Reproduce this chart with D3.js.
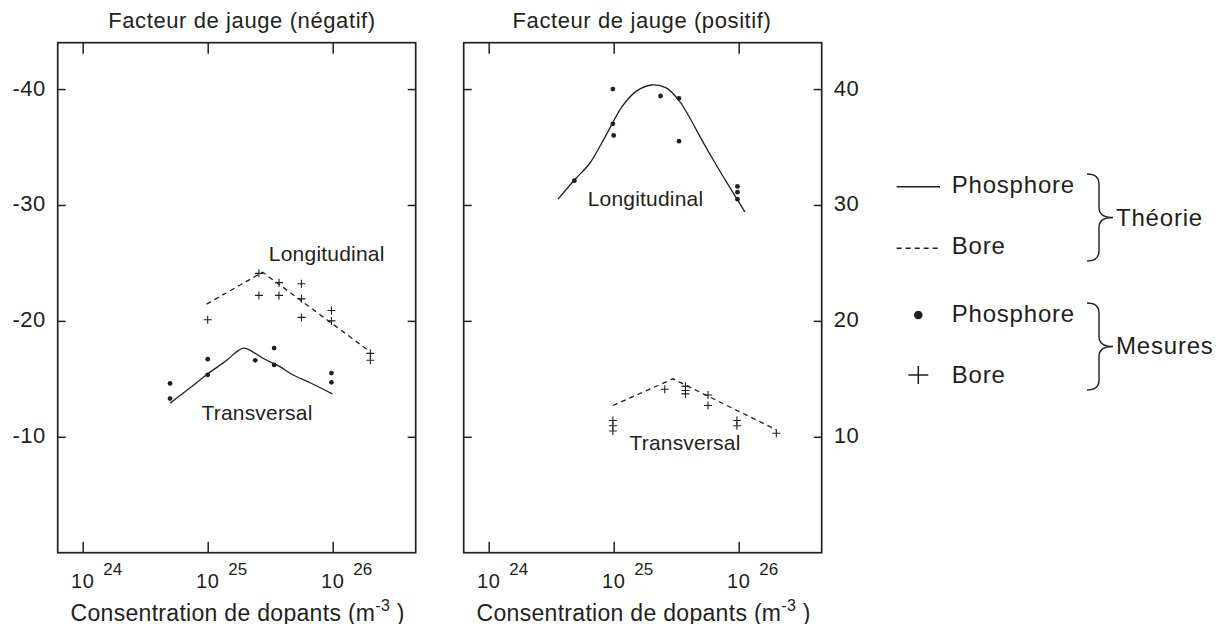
<!DOCTYPE html>
<html lang="fr">
<head>
<meta charset="utf-8">
<title>Facteur de jauge</title>
<script src="https://d3js.org/d3.v7.min.js"></script>
<style>
  body { margin: 0; background: #fff; }
  text { font-family: "Liberation Sans", Arial, sans-serif; fill: #231f20; }
</style>
</head>
<body>
<div id="chart"></div>
<script>
// tick values
const xTickValues = [1e24, 1e25, 1e26];
const yTickValues = [10, 20, 30, 40];

// facteur de jauge (negatif) : [concentration m^-3, |G|]
const negLongTheory = [[9.8e24, 21.45], [2.75e25, 24.2], [1.93e26, 17.45]];
const negTransTheory = [[5.0e24, 12.9], [7.2e24, 14.2], [9.9e24, 15.4], [1.42e25, 16.6], [1.71e25, 17.35],
  [1.93e25, 17.65], [2.11e25, 17.55], [2.79e25, 16.75], [3.78e25, 16.05], [4.7e25, 15.4], [6.79e25, 14.6], [9.93e25, 13.7]];
const negBoreMeas = [[1.0e25, 20.1], [2.57e25, 24.1], [2.57e25, 22.2], [3.72e25, 23.3], [3.72e25, 22.2],
  [5.62e25, 23.2], [5.62e25, 21.9], [5.62e25, 20.3], [9.77e25, 20.9], [9.77e25, 20.0], [2.0e26, 17.2], [2.0e26, 16.6]];
const negPhosMeas = [[5.0e24, 14.6], [5.0e24, 13.3], [1.0e25, 16.7], [1.0e25, 15.35], [2.4e25, 16.6],
  [3.4e25, 17.65], [3.4e25, 16.2], [9.77e25, 15.5], [9.77e25, 14.7]];

// facteur de jauge (positif)
const posLongTheory = [[3.59e24, 30.5], [4.85e24, 32.15], [6.43e24, 33.6], [8.71e24, 36.05], [1.17e25, 38.5],
  [1.51e25, 39.8], [2.0e25, 40.35], [2.63e25, 40.1], [3.39e25, 38.9], [4.07e25, 37.5], [4.9e25, 35.9],
  [6.61e25, 33.45], [8.91e25, 31.15], [1.12e26, 29.4]];
const posTransTheory = [[9.85e24, 12.7], [2.98e25, 15.0], [2.0e26, 10.6]];
const posPhosMeas = [[4.85e24, 32.1], [9.85e24, 40.0], [9.85e24, 37.0], [1.0e25, 36.0], [2.37e25, 39.4],
  [3.33e25, 39.2], [3.33e25, 35.5], [9.77e25, 31.6], [9.77e25, 31.1], [9.77e25, 30.5]];
const posBoreMeas = [[9.85e24, 11.4], [9.85e24, 10.95], [9.85e24, 10.5], [2.56e25, 14.1], [3.75e25, 14.35],
  [3.75e25, 14.0], [3.75e25, 13.7], [5.68e25, 13.6], [5.68e25, 12.7], [9.68e25, 11.4], [9.68e25, 10.95], [2.0e26, 10.3]];

const ink = "#231f20";
const width = 1228, height = 624;
const plotTop = 42.7, plotBottom = 552.7;

const svg = d3.select("#chart").append("svg")
  .attr("width", width).attr("height", height);

const y = d3.scaleLinear().domain([0, 44]).range([plotBottom, plotTop]);

const panels = [
  { x0: 57.7, x1: 415.7, title: "Facteur de jauge (négatif)", titleX: 242, sign: "-", labelSide: "left",
    theory: [[negLongTheory, true], [negTransTheory, false]], phos: negPhosMeas, bore: negBoreMeas,
    labels: [["Longitudinal", 326.7, 261], ["Transversal", 257, 420]] },
  { x0: 463.7, x1: 821.7, title: "Facteur de jauge (positif)", titleX: 642, sign: "", labelSide: "right",
    theory: [[posLongTheory, false], [posTransTheory, true]], phos: posPhosMeas, bore: posBoreMeas,
    labels: [["Longitudinal", 645.5, 206], ["Transversal", 685, 450]] }
];

panels.forEach(p => {
  const x = d3.scaleLog().domain([Math.pow(10, 23.8), Math.pow(10, 26.664)]).range([p.x0, p.x1]);
  const g = svg.append("g");

  // inward ticks on all four sides
  const axes = [
    [d3.axisTop(x).tickSize(-11), `translate(0,${plotTop})`],
    [d3.axisBottom(x).tickSize(-11), `translate(0,${plotBottom})`],
    [d3.axisLeft(y).tickSize(-8), `translate(${p.x0},0)`],
    [d3.axisRight(y).tickSize(-8), `translate(${p.x1},0)`]
  ];
  axes.forEach(([ax, tr], i) => {
    ax.tickValues(i < 2 ? xTickValues : yTickValues).tickFormat("");
    const a = g.append("g").attr("transform", tr).call(ax);
    a.select(".domain").remove();
    a.selectAll("line").attr("stroke", ink).attr("stroke-width", 1.5);
  });

  g.append("rect")
    .attr("x", p.x0).attr("y", plotTop)
    .attr("width", p.x1 - p.x0).attr("height", plotBottom - plotTop)
    .attr("fill", "none").attr("stroke", ink).attr("stroke-width", 1.7);

  // x tick labels 10^n
  xTickValues.forEach(v => {
    const xt = x(v);
    g.append("text").attr("x", xt).attr("y", 587.5)
      .attr("text-anchor", "middle").style("font-size", "20px").style("letter-spacing", "0.5px")
      .text("10");
    g.append("text").attr("x", xt + 20.6).attr("y", 575)
      .style("font-size", "17px")
      .text(Math.round(Math.log10(v)));
  });

  // y tick labels
  yTickValues.forEach(v => {
    g.append("text")
      .attr("x", p.labelSide === "left" ? p.x0 - 12 : p.x1 + 12)
      .attr("y", y(v) + 6.5)
      .attr("text-anchor", p.labelSide === "left" ? "end" : "start")
      .style("font-size", "22px").style("letter-spacing", "0.5px")
      .text(p.sign + v);
  });

  // titles
  g.append("text").attr("x", p.titleX).attr("y", 27.5)
    .attr("text-anchor", "middle").style("font-size", "22px").style("letter-spacing", "0.6px")
    .text(p.title);

  const xt = g.append("text").attr("x", (p.x0 + p.x1) / 2 + 1).attr("y", 620.5)
    .attr("text-anchor", "middle").style("font-size", "23px").style("letter-spacing", "0.3px");
  xt.append("tspan").text("Consentration de dopants (m");
  xt.append("tspan").attr("dy", -10).style("font-size", "16px").text("-3");
  xt.append("tspan").attr("dy", 10).text(" )");

  // theory curves
  p.theory.forEach(([data, dashed]) => {
    g.append("path").datum(data)
      .attr("fill", "none").attr("stroke", ink).attr("stroke-width", 1.3)
      .attr("stroke-dasharray", dashed ? "5,4" : null)
      .attr("d", d3.line()
        .x(d => x(d[0])).y(d => y(d[1]))
        .curve(dashed ? d3.curveLinear : d3.curveCatmullRom));
  });

  // measurements
  g.selectAll(".phos").data(p.phos).enter().append("circle")
    .attr("cx", d => x(d[0])).attr("cy", d => y(d[1])).attr("r", 2.4).attr("fill", ink);
  g.selectAll(".bore").data(p.bore).enter().append("path")
    .attr("transform", d => `translate(${x(d[0])},${y(d[1])})`)
    .attr("d", "M-4,0H4M0,-4V4").attr("stroke", ink).attr("stroke-width", 1.1).attr("fill", "none");

  p.labels.forEach(([t, lx, ly]) => {
    g.append("text").attr("x", lx).attr("y", ly).attr("text-anchor", "middle")
      .style("font-size", "21px").style("letter-spacing", "0.2px").text(t);
  });
});

// legend
const leg = svg.append("g");
const legText = (t, lx, ly) => leg.append("text").attr("x", lx).attr("y", ly)
  .style("font-size", "24px").style("letter-spacing", "0.8px").text(t);

leg.append("line").attr("x1", 896.7).attr("x2", 940).attr("y1", 186.7).attr("y2", 186.7)
  .attr("stroke", ink).attr("stroke-width", 1.5);
legText("Phosphore", 951.7, 193.3);
leg.append("line").attr("x1", 896.7).attr("x2", 940).attr("y1", 248.3).attr("y2", 248.3)
  .attr("stroke", ink).attr("stroke-width", 1.5).attr("stroke-dasharray", "5,4");
legText("Bore", 951.7, 254.3);
leg.append("circle").attr("cx", 918.3).attr("cy", 315).attr("r", 4.3).attr("fill", ink);
legText("Phosphore", 951.7, 321.7);
leg.append("path").attr("d", "M908.3,375H928.3M918.3,366V384").attr("stroke", ink).attr("stroke-width", 1.6);
legText("Bore", 951.7, 382.7);

function brace(y0, y1) {
  const x0 = 1087, x1 = 1099, x2 = 1113, r = 10, ym = (y0 + y1) / 2;
  return `M${x0},${y0}Q${x1},${y0} ${x1},${y0 + r}L${x1},${ym - r}Q${x1},${ym} ${x2},${ym}` +
    `Q${x1},${ym} ${x1},${ym + r}L${x1},${y1 - r}Q${x1},${y1} ${x0},${y1}`;
}
leg.append("path").attr("d", brace(174, 261)).attr("fill", "none").attr("stroke", ink).attr("stroke-width", 1.4);
leg.append("path").attr("d", brace(303, 390)).attr("fill", "none").attr("stroke", ink).attr("stroke-width", 1.4);
legText("Théorie", 1116, 226);
legText("Mesures", 1116, 354);
</script>
</body>
</html>
